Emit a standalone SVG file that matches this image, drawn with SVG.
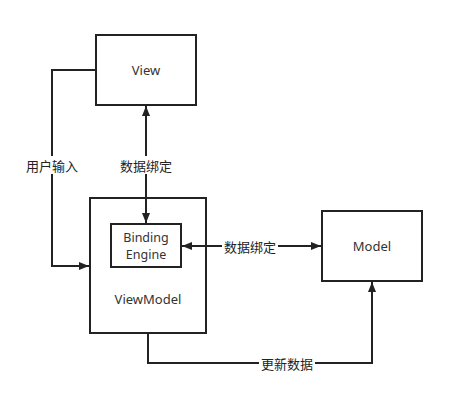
<svg xmlns="http://www.w3.org/2000/svg" width="466" height="413" viewBox="0 0 466 413">
<defs>
<marker id="arr" markerWidth="10" markerHeight="8" refX="10" refY="4" orient="auto-start-reverse" markerUnits="userSpaceOnUse">
<path d="M0,0 L10,4 L0,8 Z" fill="#222"/>
</marker>
</defs>
<style>
.box{fill:#fff;stroke:#222;stroke-width:2}
.ln{fill:none;stroke:#222;stroke-width:2}
.t{font-family:"Noto Sans","Noto Sans CJK SC",sans-serif;font-size:13px;fill:#333;text-anchor:middle;dominant-baseline:central}
.be{font-size:12.5px}
.lbl{font-family:"Noto Sans CJK SC","Noto Sans",sans-serif;font-size:13px;fill:#222;text-anchor:middle;dominant-baseline:central}
.bg{fill:#fff}
</style>
<rect width="466" height="413" fill="#fff"/>
<g id="nodes">
<g id="view"><rect class="box" x="96" y="35" width="100" height="70"/><text class="t" x="146" y="70">View</text></g>
<g id="viewmodel"><rect class="box" x="90" y="198" width="116" height="135"/><text class="t" x="148" y="299">ViewModel</text></g>
<g id="binding"><rect class="box" x="111" y="224" width="70" height="43"/><text class="t be" x="146" y="237">Binding</text><text class="t be" x="146" y="254.5">Engine</text></g>
<g id="model"><rect class="box" x="322" y="211" width="100" height="70"/><text class="t" x="372" y="246">Model</text></g>
</g>
<g id="connectors">
<polyline class="ln" points="96,70 52,70 52,266 89,266" marker-end="url(#arr)"/>
<rect class="bg" x="24" y="156" width="56" height="18"/>
<text class="lbl" x="52" y="165">用户输入</text>
<line class="ln" x1="146" y1="106" x2="146" y2="223" marker-start="url(#arr)" marker-end="url(#arr)"/>
<rect class="bg" x="118" y="156" width="56" height="18"/>
<text class="lbl" x="146" y="165">数据绑定</text>
<line class="ln" x1="182" y1="246" x2="321" y2="246" marker-start="url(#arr)" marker-end="url(#arr)"/>
<rect class="bg" x="222" y="237" width="56" height="18"/>
<text class="lbl" x="250" y="246">数据绑定</text>
<polyline class="ln" points="148,333 148,363 372,363 372,282" marker-end="url(#arr)"/>
<rect class="bg" x="259" y="354" width="56" height="18"/>
<text class="lbl" x="287" y="363">更新数据</text>
</g>
</svg>
